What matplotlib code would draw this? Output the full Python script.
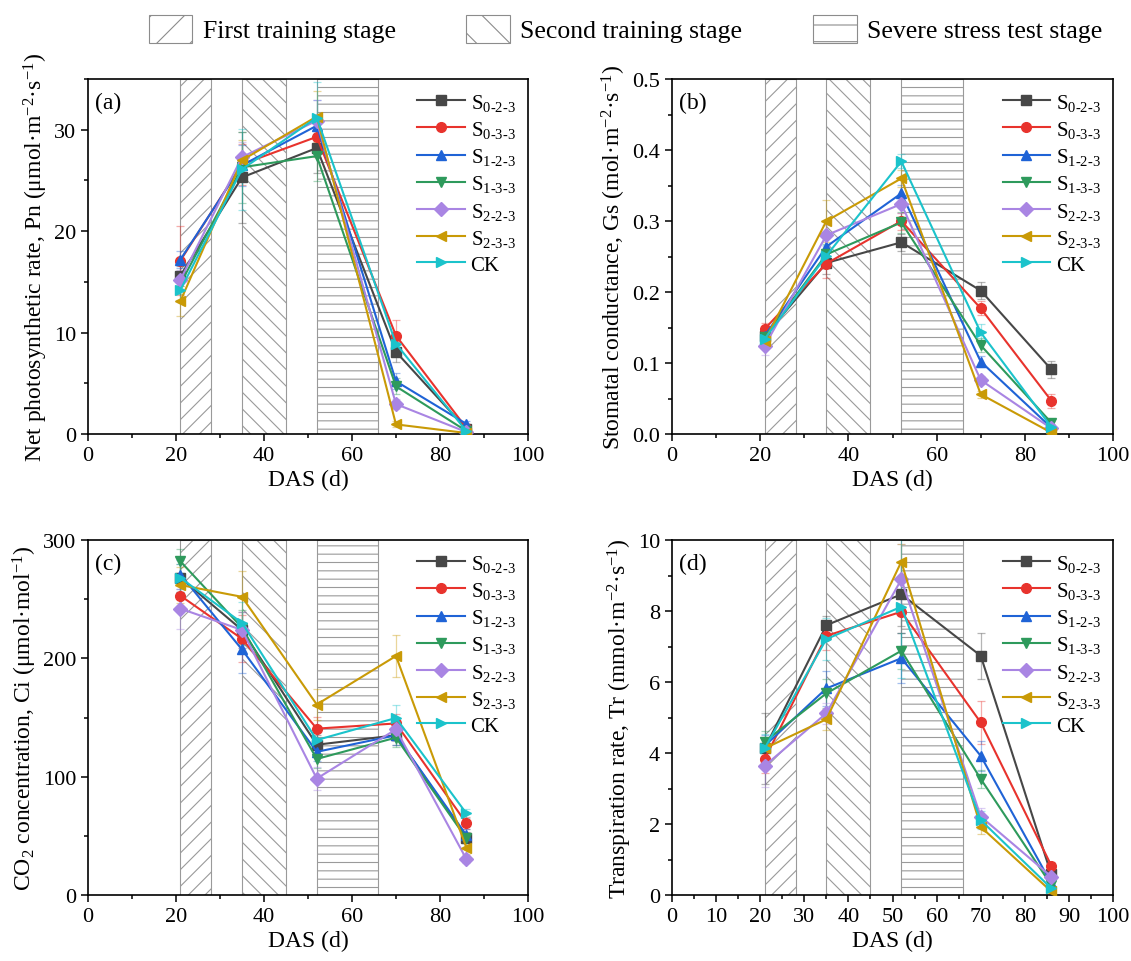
import numpy as np
import matplotlib
matplotlib.use("Agg")
import matplotlib.pyplot as plt
from matplotlib.patches import Patch
from matplotlib.ticker import MultipleLocator, FormatStrFormatter

plt.rcParams['font.family'] = ['Liberation Serif', 'DejaVu Serif']
plt.rcParams['mathtext.fontset'] = 'custom'
plt.rcParams['mathtext.rm'] = 'Liberation Serif'
plt.rcParams['mathtext.it'] = 'Liberation Serif:italic'
plt.rcParams['mathtext.bf'] = 'Liberation Serif:bold'
plt.rcParams['hatch.linewidth'] = 0.8

# sampling days (DAS)
das = [21, 35, 52, 70, 86]

labels = [r'S$_{\text{0-2-3}}$', r'S$_{\text{0-3-3}}$', r'S$_{\text{1-2-3}}$',
          r'S$_{\text{1-3-3}}$', r'S$_{\text{2-2-3}}$', r'S$_{\text{2-3-3}}$', 'CK']
colors = ['#474747', '#e8332d', '#1f63d6', '#2e9a5c', '#a985e3', '#c99a06', '#1bc3cb']
markers = ['s', 'o', '^', 'v', 'D', '<', '>']

# training / stress stages (DAS)
stages = [(21, 28), (35, 45), (52, 66)]
stage_names = ['First training stage', 'Second training stage', 'Severe stress test stage']
stage_hatch = ['//', '\\\\', '--']

# (a) net photosynthetic rate
pn = [
    [15.6, 25.3, 28.2, 8.1, 0.5],
    [17.1, 26.6, 29.3, 9.7, 0.6],
    [17.2, 26.5, 30.4, 5.2, 1.0],
    [14.8, 26.3, 27.4, 4.7, 0.3],
    [15.2, 27.3, 30.9, 2.95, 0.2],
    [13.1, 27.0, 31.3, 0.95, 0.1],
    [14.2, 26.1, 31.2, 8.9, 0.3],
]
pn_err = [
    [1.0, 4.5, 2.5, 1.0, 0.3],
    [3.4, 2.0, 2.0, 1.5, 0.3],
    [0.8, 2.0, 2.5, 0.8, 0.3],
    [1.0, 3.5, 2.5, 0.8, 0.2],
    [1.0, 1.5, 2.0, 0.5, 0.2],
    [1.5, 2.0, 2.5, 0.3, 0.1],
    [1.0, 4.0, 3.5, 1.0, 0.2],
]

# (b) stomatal conductance
gs = [
    [0.138, 0.241, 0.270, 0.202, 0.091],
    [0.148, 0.240, 0.300, 0.177, 0.047],
    [0.138, 0.264, 0.339, 0.102, 0.009],
    [0.136, 0.253, 0.298, 0.125, 0.016],
    [0.124, 0.280, 0.324, 0.076, 0.008],
    [0.131, 0.300, 0.360, 0.056, 0.002],
    [0.134, 0.251, 0.384, 0.143, 0.010],
]
gs_err = [
    [0.012, 0.015, 0.012, 0.012, 0.012],
    [0.008, 0.020, 0.012, 0.010, 0.010],
    [0.010, 0.015, 0.012, 0.008, 0.004],
    [0.010, 0.015, 0.015, 0.010, 0.004],
    [0.012, 0.015, 0.012, 0.006, 0.003],
    [0.010, 0.030, 0.012, 0.005, 0.002],
    [0.010, 0.015, 0.010, 0.012, 0.004],
]

# (c) intercellular CO2 concentration
ci = [
    [268, 224, 127, 135, 48.6],
    [253, 216.5, 140.6, 145, 60.7],
    [270.8, 207.5, 121, 135, 50.6],
    [282, 226, 115, 133, 47.8],
    [242, 224, 98.4, 140, 30.4],
    [262, 252, 161, 202, 40],
    [268, 230, 131, 149.6, 69],
]
ci_err = [
    [12, 15, 8, 8, 5],
    [10, 20, 10, 8, 5],
    [12, 20, 8, 8, 5],
    [10, 15, 8, 8, 4],
    [17, 15, 10, 10, 3],
    [15, 22, 13, 18, 5],
    [12, 18, 8, 11, 4],
]

# (d) transpiration rate
tr = [
    [4.13, 7.6, 8.47, 6.74, 0.58],
    [3.83, 7.3, 7.98, 4.86, 0.83],
    [4.2, 5.82, 6.67, 3.92, 0.33],
    [4.32, 5.68, 6.88, 3.27, 0.28],
    [3.64, 5.12, 8.89, 2.21, 0.52],
    [4.13, 4.95, 9.39, 1.92, 0.10],
    [4.13, 7.21, 8.12, 2.11, 0.19],
]
tr_err = [
    [1.0, 0.25, 0.9, 0.65, 0.1],
    [0.4, 0.4, 0.6, 0.6, 0.1],
    [0.3, 0.5, 0.7, 0.43, 0.1],
    [0.3, 0.4, 0.5, 0.25, 0.08],
    [0.6, 0.3, 1.0, 0.25, 0.08],
    [0.3, 0.3, 0.5, 0.2, 0.05],
    [0.4, 0.6, 2.0, 0.25, 0.05],
]

panels = [
    ('(a)', pn, pn_err, (0, 35), 10, 5, 20, 10,
     r'Net photosynthetic rate, Pn (μmol·m$^{-2}$·s$^{-1}$)', '%d'),
    ('(b)', gs, gs_err, (0, 0.5), 0.1, 0.05, 20, 10,
     r'Stomatal conductance, Gs (mol·m$^{-2}$·s$^{-1}$)', '%.1f'),
    ('(c)', ci, ci_err, (0, 300), 100, 50, 20, 10,
     r'CO$_2$ concentration, Ci (μmol·mol$^{-1}$)', '%d'),
    ('(d)', tr, tr_err, (0, 10), 2, 1, 10, 5,
     r'Transpiration rate, Tr (mmol·m$^{-2}$·s$^{-1}$)', '%d'),
]

positions = [
    [0.0778, 0.5478, 0.389, 0.369],
    [0.5942, 0.5478, 0.3899, 0.369],
    [0.0778, 0.0686, 0.389, 0.369],
    [0.5942, 0.0686, 0.3899, 0.369],
]

fig = plt.figure(figsize=(11.31, 9.62), dpi=100)

for pos, (tag, vals, errs, ylim, ymaj, ymin, xmaj, xmin, ylabel, fmt) in zip(positions, panels):
    ax = fig.add_axes(pos)

    # hatched stage backgrounds
    for (x0, x1), h in zip(stages, stage_hatch):
        ax.axvspan(x0, x1, facecolor='none', edgecolor='#9a9a9a', hatch=h,
                   linewidth=0.8, zorder=0)

    for v, e, c, m, lab in zip(vals, errs, colors, markers, labels):
        ax.errorbar(das, v, yerr=e, fmt='none', ecolor=c, alpha=0.4,
                    elinewidth=0.9, capsize=3, capthick=0.9, zorder=2)
        ax.plot(das, v, color=c, marker=m, markersize=7, linewidth=1.5,
                label=lab, zorder=3)

    ax.set_xlim(0, 100)
    ax.set_ylim(*ylim)
    ax.xaxis.set_major_locator(MultipleLocator(xmaj))
    ax.xaxis.set_minor_locator(MultipleLocator(xmin))
    ax.yaxis.set_major_locator(MultipleLocator(ymaj))
    ax.yaxis.set_minor_locator(MultipleLocator(ymin))
    ax.yaxis.set_major_formatter(FormatStrFormatter(fmt))
    ax.tick_params(which='both', direction='out', top=False, right=False,
                   labelsize=16, width=1.1)
    ax.tick_params(which='major', length=5)
    ax.tick_params(which='minor', length=3)
    for s in ax.spines.values():
        s.set_linewidth(1.2)

    ax.set_xlabel('DAS (d)', fontsize=17, labelpad=3)
    ax.set_ylabel(ylabel, fontsize=17, labelpad=3)
    ax.text(0.015, 0.965, tag, transform=ax.transAxes, fontsize=17,
            va='top', ha='left')

    ax.legend(loc='upper right', frameon=False, fontsize=15, handlelength=2.3,
              labelspacing=0.3, handletextpad=0.25, borderaxespad=0.2)

# stage legend across the top
stage_handles = [Patch(facecolor='white', edgecolor='#8c8c8c', hatch=h, linewidth=0.8)
                 for h in ['/', '\\', '-']]
fig.legend(stage_handles, stage_names, loc='center', bbox_to_anchor=(0.553, 0.969),
           ncol=3, frameon=False, fontsize=18.5, handlelength=1.7, handleheight=1.3,
           handletextpad=0.4, columnspacing=2.75)

fig.savefig('out.png', dpi=100)
